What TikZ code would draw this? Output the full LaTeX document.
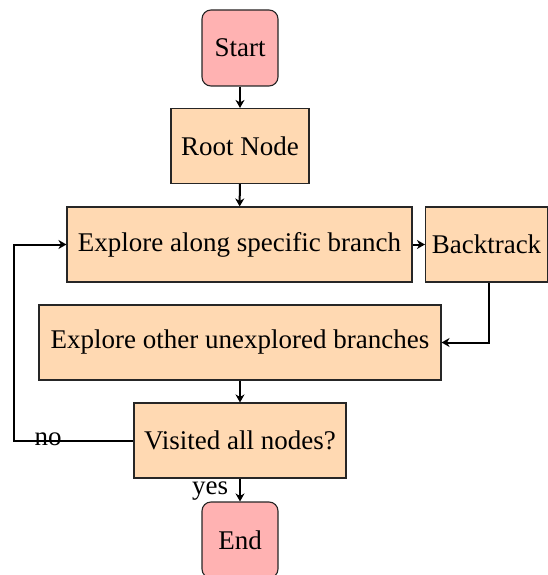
\documentclass[tikz,border=0pt]{standalone}
\usepackage{fontspec}
\setmainfont{Liberation Serif}
\usetikzlibrary{arrows.meta}
\begin{document}
\begin{tikzpicture}[x=1pt,y=-1pt,
  every node/.style={font=\fontsize{27}{32}\selectfont},
  base/.style={draw=black!85, line width=1.1pt, minimum height=75pt, inner sep=0pt},
  term/.style={base, fill=red!30, rounded corners=9pt, minimum width=76pt},
  proc/.style={base, fill=orange!30},
  arr/.style={line width=2pt, -{Stealth[length=8pt,width=9pt,inset=2.5pt]}},
  lbl/.style={inner sep=0pt}]
\useasboundingbox (0,0) rectangle (547,575);
\node[term, minimum height=76pt] (start) at (240,48) {Start};
\node[proc, minimum width=138pt] (root) at (240,146) {Root Node};
\node[proc, minimum width=345pt] (exp1) at (239.5,244.5) {Explore along specific branch};
\node[proc, minimum width=122pt] (back) at (486.5,244.5) {Backtrack};
\node[proc, minimum width=402pt] (exp2) at (240,342.5) {Explore other unexplored branches};
\node[proc, minimum width=212pt] (vis) at (240,440.5) {Visited all nodes?};
\node[term, minimum height=76pt] (end) at (240,540) {End};
\coordinate (bl) at (14,440.5);
\coordinate (tl) at (14,244.5);
\coordinate (br) at (489,342.5);
\draw[arr] (start) -- (root);
\draw[arr] (root) -- (exp1);
\draw[arr] (exp1) -- (back);
\draw[arr] (back.south -| br) -- (br) -- (exp2.east);
\draw[arr] (exp2) -- (vis);
\draw[arr] (vis) -- node[lbl, anchor=east, inner xsep=11pt, yshift=-1pt] (yes) {yes} (end);
\draw[arr] (vis.west) -- (bl) -- (tl) -- (exp1.west);
\node[lbl] (no) at (48,439) {no};
\end{tikzpicture}
\end{document}
